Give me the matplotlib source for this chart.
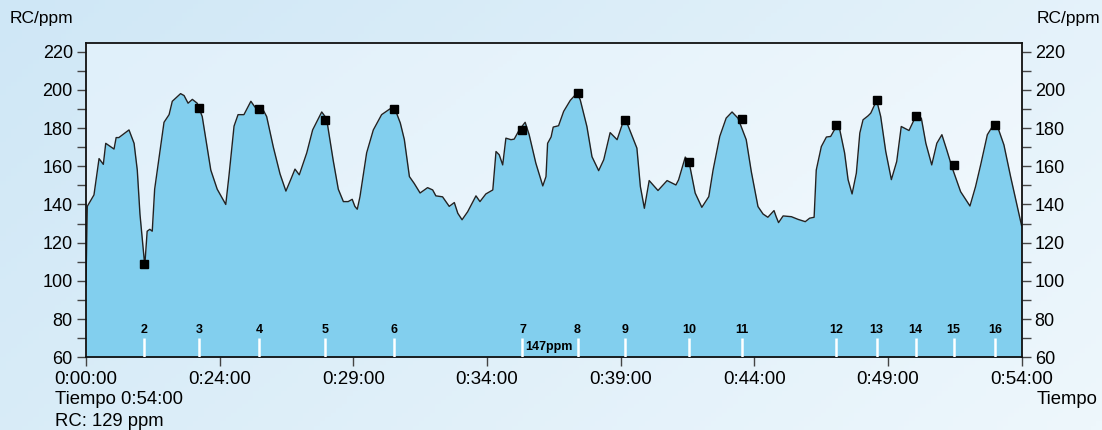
import numpy as np
import matplotlib.pyplot as plt
from matplotlib.colors import LinearSegmentedColormap
from matplotlib.ticker import MultipleLocator

plt.rcParams['font.family'] = ['Liberation Sans', 'DejaVu Sans']

# Registro de frecuencia cardiaca: minuto de la sesion y ppm
minutos = [19.00, 19.05, 19.30, 19.49, 19.65, 19.74, 20.05, 20.13, 20.23, 20.61,
           20.80, 20.92, 21.02, 21.20, 21.29, 21.39, 21.48, 21.57, 21.92, 22.11,
           22.23, 22.54, 22.67, 22.82, 22.98, 23.16, 23.35, 23.67, 23.91, 24.23,
           24.35, 24.54, 24.69, 24.91, 25.17, 25.32, 25.61, 25.76, 26.01, 26.26,
           26.48, 26.66, 26.82, 26.98, 27.26, 27.48, 27.82, 28.00, 28.25, 28.44,
           28.63, 28.81, 28.96, 29.06, 29.15, 29.25, 29.50, 29.75, 30.06, 30.37,
           30.56, 30.76, 30.91, 31.10, 31.28, 31.50, 31.78, 31.97, 32.09, 32.34,
           32.59, 32.78, 32.91, 33.07, 33.28, 33.59, 33.74, 33.96, 34.22, 34.34,
           34.46, 34.59, 34.71, 34.90, 35.02, 35.21, 35.43, 35.58, 35.83, 36.09,
           36.21, 36.27, 36.40, 36.48, 36.68, 36.87, 37.12, 37.37, 37.49, 37.74,
           37.93, 38.18, 38.37, 38.61, 38.87, 39.08, 39.24, 39.61, 39.74, 39.89,
           40.07, 40.40, 40.74, 41.07, 41.17, 41.42, 41.57, 41.79, 42.04, 42.30,
           42.46, 42.71, 42.95, 43.17, 43.39, 43.70, 43.89, 44.14, 44.33, 44.51,
           44.74, 44.82, 44.91, 45.08, 45.39, 45.64, 45.91, 46.07, 46.24, 46.32,
           46.51, 46.70, 46.86, 47.07, 47.20, 47.38, 47.51, 47.66, 47.82, 47.95,
           48.07, 48.26, 48.36, 48.58, 48.73, 48.92, 49.13, 49.33, 49.50, 49.79,
           50.04, 50.25, 50.42, 50.64, 50.83, 51.02, 51.20, 51.41, 51.72, 52.07,
           52.28, 52.47, 52.72, 52.95, 53.10, 53.34, 53.59, 54.00]
rc_ppm = [98, 139, 145, 164, 161, 172, 169, 175, 175, 179,
          172, 158, 135, 108, 126, 127, 126, 148, 183, 187,
          194, 198, 197, 193, 195, 193, 186, 158, 148, 140,
          155, 181, 187, 187, 194, 191, 190, 186, 170, 156,
          147, 153, 158.5, 155.5, 167, 179, 188.4, 185, 163, 148,
          141.5, 141.5, 142.7, 139, 137.5, 144, 167, 179, 187, 190,
          190, 182.6, 174, 154.6, 151, 146, 148.8, 147.6, 144.5, 144,
          139, 141, 135.4, 132, 136.2, 144.5, 141.5, 145.5, 147.6, 167.7,
          166, 160.7, 174.7, 173.9, 174.2, 179, 183, 176.5, 161.6, 149.7,
          154.6, 172, 175.3, 180.5, 181.2, 188.7, 194.5, 198.3, 194.8, 180.8,
          165, 157.7, 163.4, 177.6, 173.9, 182.6, 182.6, 169.5, 149.4, 138,
          152.5, 147.3, 152.5, 150.2, 152.9, 164.8, 161.6, 146, 138.5, 144.1,
          158, 175.6, 185.2, 188.4, 185.2, 173.9, 157.2, 138.9, 135, 133.3,
          136.8, 133.6, 130.5, 134, 133.6, 132.2, 131, 132.8, 133.3, 158,
          170.3, 175.3, 175.6, 180.8, 179.1, 167, 153, 145.5, 156.4, 177.4,
          184.3, 186.4, 187.8, 194.5, 186.1, 167.7, 153, 162.5, 180.8, 178.7,
          186.1, 185.2, 172, 160.7, 172, 176.5, 168.6, 159, 146.7, 139.2,
          149.4, 160.7, 176.5, 181.7, 180.8, 171.2, 154.6, 129]

# Marcas de vuelta
vuelta_num = [2, 3, 4, 5, 6, 7, 8, 9, 10, 11, 12, 13, 14, 15, 16]
vuelta_min = [21.19, 23.23, 25.47, 27.95, 30.54, 35.33, 37.39, 39.17, 41.56,
              43.54, 47.07, 48.58, 50.04, 51.46, 53.00]
vuelta_rc = [108.6, 190.6, 189.7, 184, 190, 179.1, 198.1, 184.3, 162,
             184.9, 181.4, 194.8, 186.1, 160.7, 181.4]

ticks_min = [19, 24, 29, 34, 39, 44, 49, 54]
ticks_txt = ['0:00:00', '0:24:00', '0:29:00', '0:34:00', '0:39:00',
             '0:44:00', '0:49:00', '0:54:00']

fig = plt.figure(figsize=(11.02, 4.30), dpi=100)

# fondo degradado de la figura
fondo = fig.add_axes([0, 0, 1, 1], zorder=-10)
gx, gy = np.meshgrid(np.linspace(0, 1, 200), np.linspace(0, 1, 100))
grad = (gx * 0.7 + gy * 0.3)
cm_fig = LinearSegmentedColormap.from_list('fig', ['#cfe7f6', '#eef7fc'])
fondo.imshow(grad, extent=[0, 1, 0, 1], aspect='auto', cmap=cm_fig, origin='upper')
fondo.axis('off')

ax = fig.add_axes([0.078, 0.169, 0.849, 0.731])
ax.set_xlim(19, 54)
ax.set_ylim(60, 224.5)

cm_ax = LinearSegmentedColormap.from_list('ax', ['#e0f0fa', '#f3f9fd'])
ax.imshow(grad, extent=[19, 54, 60, 224.5], aspect='auto', cmap=cm_ax,
          origin='upper', zorder=0)

ax.fill_between(minutos, rc_ppm, 60, color='#82cfee', lw=0, zorder=1)
ax.plot(minutos, rc_ppm, color='#222222', lw=1.0, zorder=2,
        solid_joinstyle='round')

# lineas blancas y numero de cada vuelta
ax.vlines(vuelta_min, 60, 70.3, color='white', lw=1.8, zorder=3)
for n, m in zip(vuelta_num, vuelta_min):
    ax.text(m, 74.3, str(n), ha='center', va='center', fontsize=9,
            fontweight='bold', zorder=4)
ax.annotate('147ppm', (vuelta_min[5], 65.5), xytext=(2, 0),
            textcoords='offset points', ha='left', va='center',
            fontsize=9, fontweight='bold', zorder=4)

ax.plot(vuelta_min, vuelta_rc, 's', color='black', ms=6, zorder=5)

ax.set_xticks(ticks_min)
ax.set_xticklabels(ticks_txt)
ax.set_yticks(range(60, 221, 20))
ax.yaxis.set_minor_locator(MultipleLocator(10))
ax.tick_params(axis='y', which='both', left=True, right=True, labelleft=True,
               labelright=True, length=6.5, width=1, color='#444444',
               labelsize=13, pad=3)
ax.tick_params(axis='x', length=6.5, width=1, color='#444444', labelsize=13.5, pad=3)
for s in ax.spines.values():
    s.set_linewidth(1.3)
    s.set_color('#111111')

fig.text(10 / 1102, 1 - 18.5 / 430, 'RC/ppm', ha='left', va='center', fontsize=12.5)
fig.text(1037 / 1102, 1 - 18.5 / 430, 'RC/ppm', ha='left', va='center', fontsize=12.5)
fig.text(55 / 1102, 1 - 399 / 430, 'Tiempo 0:54:00', ha='left', va='center', fontsize=13.3)
fig.text(55 / 1102, 1 - 421.5 / 430, 'RC: 129 ppm', ha='left', va='center', fontsize=13.3)
fig.text(1037 / 1102, 1 - 399 / 430, 'Tiempo', ha='left', va='center', fontsize=13.3)

fig.savefig('out.png', dpi=100)
